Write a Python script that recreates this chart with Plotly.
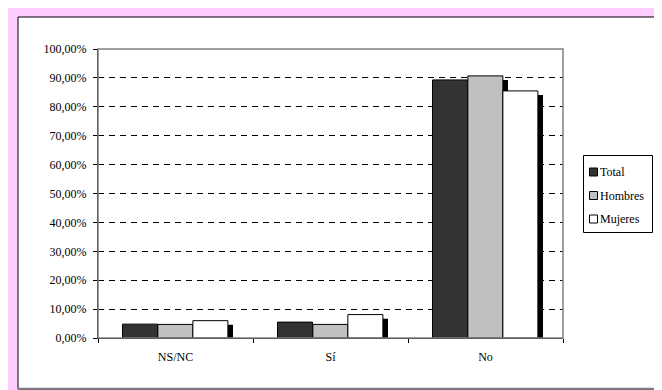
import plotly.graph_objects as go

categories = ["NS/NC", "Sí", "No"]
total = [0.048, 0.055, 0.893]
hombres = [0.047, 0.047, 0.907]
mujeres = [0.060, 0.081, 0.855]

series = [
    ("Total", total, "#333333", -0.342),
    ("Hombres", hombres, "#C0C0C0", -0.114),
    ("Mujeres", mujeres, "#FFFFFF", 0.112),
]
bar_w = 0.226
shadow_dx = 0.033
shadow_dy = 0.014

fig = go.Figure()

# shadows
for name, vals, color, off in series:
    fig.add_trace(go.Bar(
        x=categories, y=[v - shadow_dy for v in vals],
        width=bar_w, offset=off + shadow_dx,
        marker=dict(color="#000000", line=dict(width=0)),
        showlegend=False, hoverinfo="skip",
    ))

for name, vals, color, off in series:
    fig.add_trace(go.Bar(
        x=categories, y=vals, name=name,
        width=bar_w, offset=off,
        marker=dict(color=color, line=dict(color="#000000", width=1)),
        showlegend=False,
    ))

# page offset of the figure inside the browser window
OX, OY = 8, 8
W, H = 654, 382
L, T = 98 - OX, 49 - OY
R = W - (563 - OX)
B = H - (338 - OY)
pw, ph = W - L - R, H - T - B

def px_x(sx):
    return (sx - OX - L) / pw

def px_y(sy):
    return (H - B - (sy - OY)) / ph

shapes = [
    dict(type="rect", xref="paper", yref="paper", layer="below",
         x0=px_x(18), x1=px_x(700), y0=px_y(389), y1=px_y(17),
         fillcolor="#FFFFFF", line=dict(color="#000000", width=1)),
    dict(type="line", xref="paper", yref="paper", layer="below",
         x0=px_x(18), x1=px_x(700), y0=px_y(388.5), y1=px_y(388.5),
         line=dict(color="#808080", width=1.5)),
    dict(type="rect", xref="paper", yref="paper", layer="above",
         x0=0, x1=1, y0=0, y1=1,
         line=dict(color="#808080", width=1.5)),
    # legend box
    dict(type="rect", xref="paper", yref="paper", layer="above",
         x0=px_x(583.5), x1=px_x(652.5), y0=px_y(232.5), y1=px_y(155.5),
         fillcolor="#FFFFFF", line=dict(color="#000000", width=1)),
]
annotations = []
legend_y = [172, 195.5, 219]
for (name, vals, color, off), ly in zip(series, legend_y):
    shapes.append(dict(
        type="rect", xref="paper", yref="paper", layer="above",
        x0=px_x(589.5), x1=px_x(597.5), y0=px_y(ly + 4), y1=px_y(ly - 4),
        fillcolor=color, line=dict(color="#000000", width=1)))
    annotations.append(dict(
        xref="paper", yref="paper", x=px_x(598), y=px_y(ly),
        xanchor="left", yanchor="middle", text=name, showarrow=False,
        font=dict(family="Liberation Serif", size=12, color="#000000")))

fig.update_layout(
    width=W, height=H,
    margin=dict(l=L, r=R, t=T, b=B, autoexpand=False),
    barmode="overlay",
    separators=",.",
    paper_bgcolor="#FFCCFF",
    plot_bgcolor="#FFFFCC",
    font=dict(family="Liberation Serif", size=12, color="#000000"),
    showlegend=False,
    shapes=shapes,
    annotations=annotations,
)

fig.update_xaxes(
    type="category",
    showline=True, linecolor="#000000", linewidth=1,
    ticks="outside", tickson="boundaries", ticklen=4, tickcolor="#000000",
    showgrid=False, zeroline=False, automargin=False,
    ticklabelstandoff=8,
    tickfont=dict(family="Liberation Serif", size=12),
)
fig.update_yaxes(
    range=[0, 1], dtick=0.1, tickformat=".2%",
    showline=True, linecolor="#000000", linewidth=1,
    ticks="outside", ticklen=4, tickcolor="#000000",
    showgrid=True, gridcolor="#000000", gridwidth=1, griddash="6px,5px",
    zeroline=False, automargin=False,
    ticklabelstandoff=4,
    tickfont=dict(family="Liberation Serif", size=12),
)

fig.write_html("out.html")
